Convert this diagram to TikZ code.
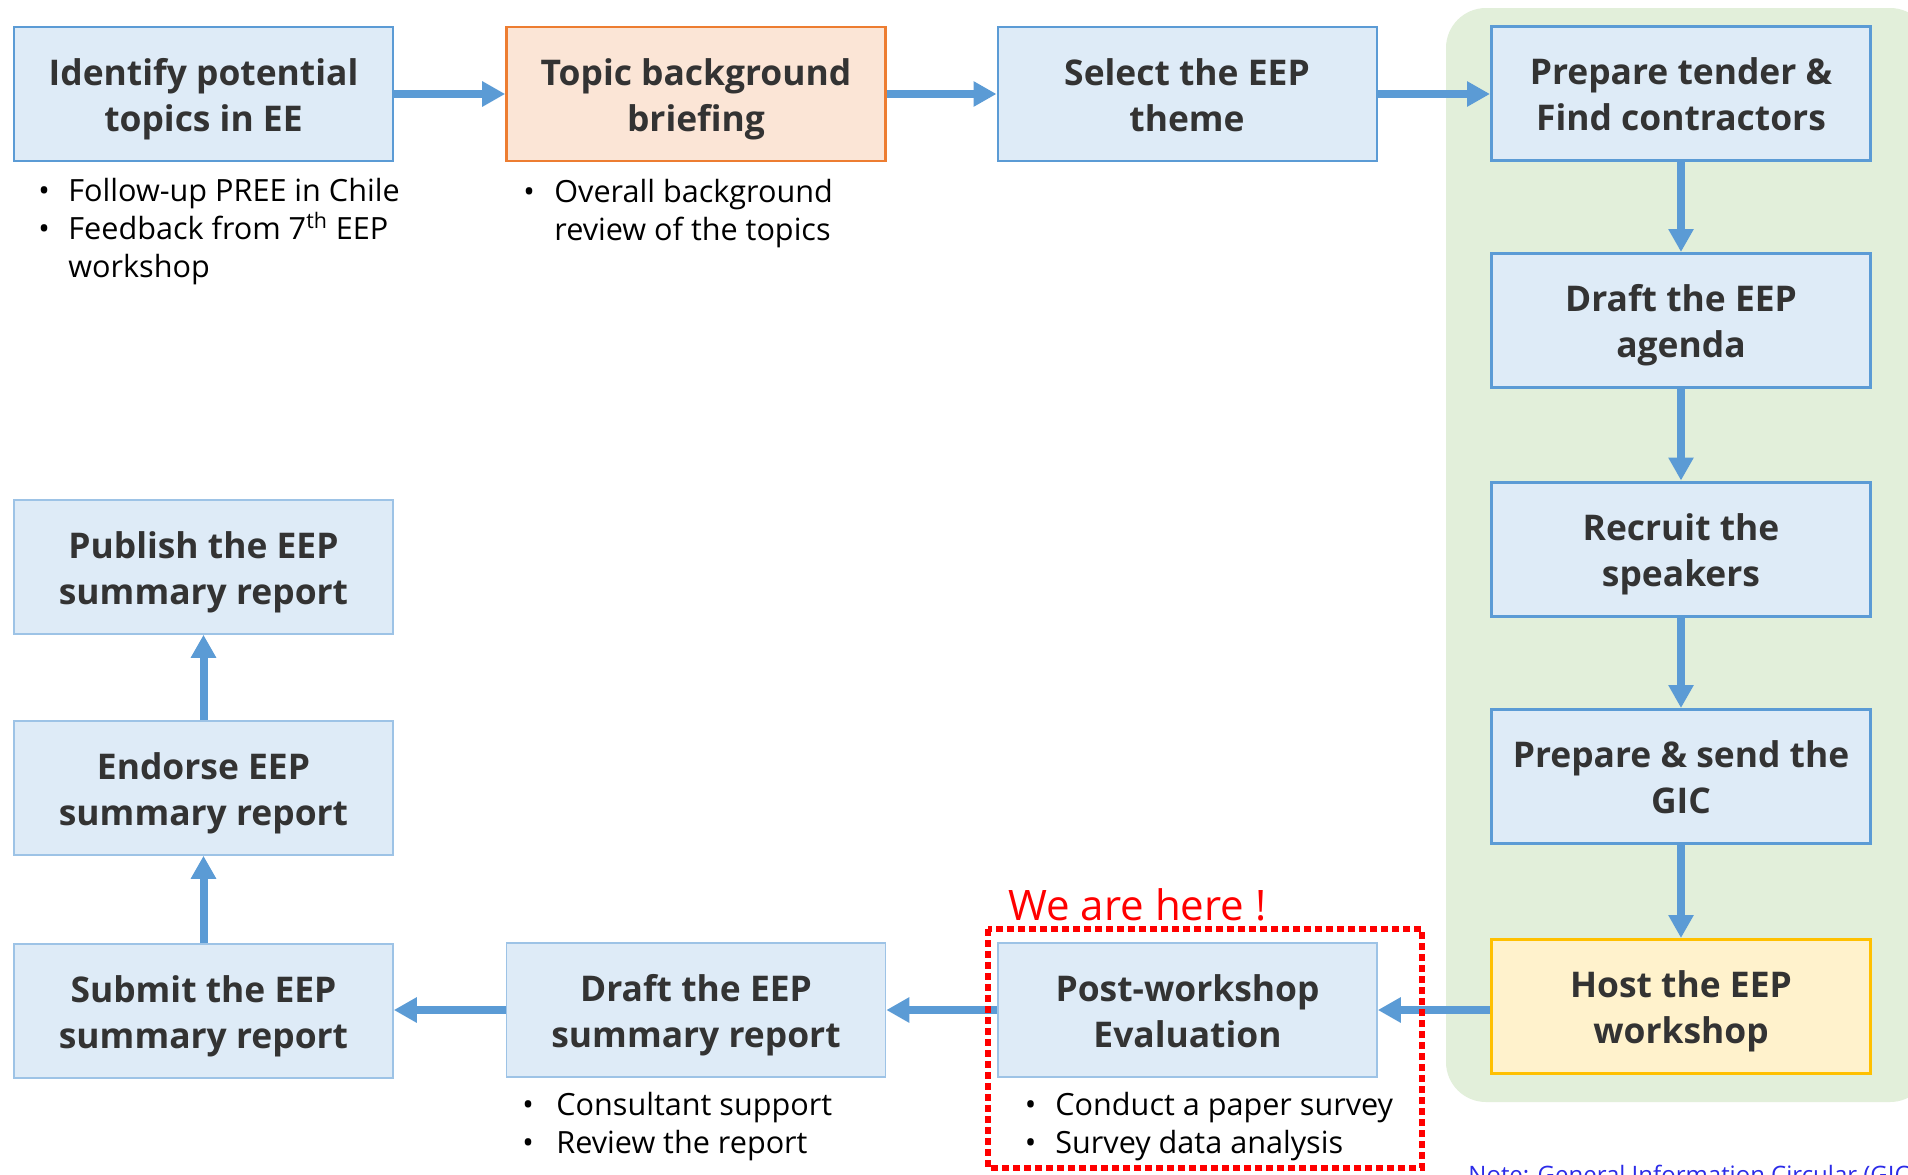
\documentclass[tikz,border=0pt]{standalone}
\usepackage{fontspec}
\setmainfont{Open Sans}
\usetikzlibrary{arrows.meta}
\definecolor{arr}{HTML}{5B9BD5}
\definecolor{boxfill}{HTML}{DEEBF7}
\definecolor{boxline}{HTML}{5B9BD5}
\definecolor{boxlinelt}{HTML}{9DC3E6}
\definecolor{orfill}{HTML}{FBE5D6}
\definecolor{orline}{HTML}{ED7D31}
\definecolor{yefill}{HTML}{FFF2CC}
\definecolor{yeline}{HTML}{FFC000}
\definecolor{grfill}{HTML}{E2EFDA}
\definecolor{titlec}{HTML}{333333}
\definecolor{notec}{HTML}{2B2BE8}
\definecolor{hered}{HTML}{FF0000}
\newcommand{\twoline}[2]{\rule{0pt}{19pt}#1\\#2\rule[-5pt]{0pt}{5pt}}
\begin{document}
\begin{tikzpicture}[x=0.5pt,y=-0.5pt,
  stepbox/.style={draw=boxline, line width=1pt, fill=boxfill, minimum width=189.5pt, minimum height=67pt, inner sep=0pt, align=center, text=titlec, font=\fontsize{17.7}{23}\selectfont\bfseries},
  ltbox/.style={stepbox, draw=boxlinelt, line width=0.8pt},
  rightbox/.style={stepbox, line width=1.5pt},
  orbox/.style={stepbox, draw=orline, fill=orfill, line width=1.3pt},
  yebox/.style={stepbox, draw=yeline, fill=yefill, line width=1.5pt},
  bul/.style={anchor=base west, inner sep=0pt, font=\fontsize{15.3}{19}\selectfont},
  flow/.style={draw=arr, line width=4pt, -{Triangle[length=11.5pt,width=12pt]}}
]
\path[use as bounding box, clip] (0,0) rectangle (1908,1174);
\fill[white] (0,0) rectangle (1908,1174);
% green background
\fill[grfill, rounded corners=20pt] (1446,8) rectangle (1930,1102);

% boxes
\node[stepbox] (A) at (203.5,94) {\twoline{Identify potential}{topics in EE}};
\node[orbox] (B) at (696,94) {\twoline{Topic background}{briefing}};
\node[stepbox] (C) at (1187,94) {\twoline{Select the EEP}{theme}};
\node[rightbox] (D) at (1681,93) {\twoline{Prepare tender \&}{Find contractors}};
\node[rightbox] (E) at (1681,320.5) {\twoline{Draft the EEP}{agenda}};
\node[rightbox] (F) at (1681,549) {\twoline{Recruit the}{speakers}};
\node[rightbox] (G) at (1681,776.5) {\twoline{Prepare \& send the}{GIC}};
\node[yebox] (H) at (1681,1006.5) {\twoline{Host the EEP}{workshop}};
\node[ltbox] (I) at (1187.5,1010) {\twoline{Post-workshop}{Evaluation}};
\node[ltbox] (J) at (696,1010) {\twoline{Draft the EEP}{summary report}};
\node[ltbox] (K) at (203.5,1011) {\twoline{Submit the EEP}{summary report}};
\node[ltbox] (L) at (203.5,788) {\twoline{Endorse EEP}{summary report}};
\node[ltbox] (M) at (203.5,567) {\twoline{Publish the EEP}{summary report}};

% connectors
\draw[flow] (A.east) -- (B.west);
\draw[flow] (B.east) -- (C.west);
\draw[flow] (C.east) -- (D.west |- C.east);
\draw[flow] (D.south) -- (E.north);
\draw[flow] (E.south) -- (F.north);
\draw[flow] (F.south) -- (G.north);
\draw[flow] (G.south) -- (H.north);
\draw[flow] (H.west |- I.east) -- (I.east);
\draw[flow] (I.west) -- (J.east);
\draw[flow] (J.west) -- (K.east |- J.west);
\draw[flow] (K.north) -- (L.south);
\draw[flow] (L.north) -- (M.south);

% red dotted highlight
\draw[hered, line width=2.9pt, dash pattern=on 3.5pt off 2pt] (988,929) rectangle (1422,1168);
\node[anchor=base west, inner sep=0pt, text=hered, font=\fontsize{21}{25}\selectfont] (here) at (1008,920) {We are here !};

% bullet texts
\node[bul] (a1) at (38,201) {\makebox[15pt][l]{•}Follow-up PREE in Chile};
\node[bul] (a2) at (38,239) {\makebox[15pt][l]{•}Feedback from 7\textsuperscript{th} EEP};
\node[bul] (a3) at (68,277) {workshop};
\node[bul] (b1) at (523,202) {\makebox[15.5pt][l]{•}Overall background};
\node[bul] (b2) at (554,240) {review of the topics};
\node[bul] (j1) at (522,1115) {\makebox[17pt][l]{•}Consultant support};
\node[bul] (j2) at (522,1153) {\makebox[17pt][l]{•}Review the report};
\node[bul] (i1) at (1024.5,1115) {\makebox[15.25pt][l]{•}Conduct a paper survey};
\node[bul] (i2) at (1024.5,1153) {\makebox[15.25pt][l]{•}Survey data analysis};

% note
\node[anchor=base west, inner sep=0pt, text=notec, font=\fontsize{12}{14}\selectfont] (note) at (1468,1183) {\underline{Note: General Information Circular (GIC)}};
\end{tikzpicture}
\end{document}
